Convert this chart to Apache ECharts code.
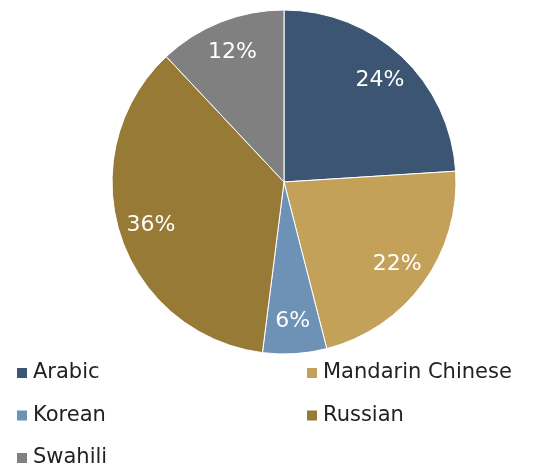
<!DOCTYPE html>
<html><head><meta charset="utf-8">
<script src="https://cdn.jsdelivr.net/npm/echarts@6/dist/echarts.min.js"></script>
<style>html,body{margin:0;padding:0;background:#fff}#c{width:551px;height:468px}</style>
</head><body><div id="c"></div>
<script>
const categories = ['Arabic', 'Mandarin Chinese', 'Korean', 'Russian', 'Swahili'];
const values = [24, 22, 6, 36, 12];
const colors = ['#3B5573', '#C4A159', '#6E91B6', '#977A36', '#808080'];
const leftLegend = ['Arabic', 'Korean', 'Swahili'];
const rightLegend = ['Mandarin Chinese', 'Russian'];

const data = categories.map((n, i) => ({ name: n, value: values[i], itemStyle: { color: colors[i] } }));
const legendItems = arr => arr.map(n => ({ name: n, itemStyle: { color: colors[categories.indexOf(n)] } }));
const font = 'DejaVu Sans';
const legendBase = {
  orient: 'vertical', top: 362, height: 110, itemWidth: 12, itemHeight: 12, itemGap: 20.5, itemTextGap: 5,
  icon: 'rect', selectedMode: false, padding: 0,
  textStyle: { fontFamily: font, fontSize: 21, lineHeight: 22, color: '#222' }
};
const chart = echarts.init(document.getElementById('c'), null, { renderer: 'canvas' });
chart.setOption({
  animation: false,
  legend: [
    Object.assign({}, legendBase, { left: 15, data: legendItems(leftLegend) }),
    Object.assign({}, legendBase, { left: 305, data: legendItems(rightLegend) })
  ],
  series: [
    {
      type: 'pie', center: [284, 182], radius: [0, 172], startAngle: 90, clockwise: true,
      label: { show: false }, labelLine: { show: false },
      itemStyle: { borderColor: '#fff', borderWidth: 1 },
      emphasis: { disabled: true }, data: data
    },
    {
      type: 'pie', center: [284, 182], radius: [102, 172], startAngle: 90, clockwise: true, silent: true,
      itemStyle: { color: 'rgba(0,0,0,0)', borderWidth: 0 },
      label: { show: true, position: 'inside', formatter: '{c}%', color: '#fff', fontFamily: font, fontSize: 22 },
      labelLine: { show: false }, emphasis: { disabled: true },
      data: categories.map((n, i) => ({ name: n, value: values[i] }))
    }
  ]
});
</script></body></html>
